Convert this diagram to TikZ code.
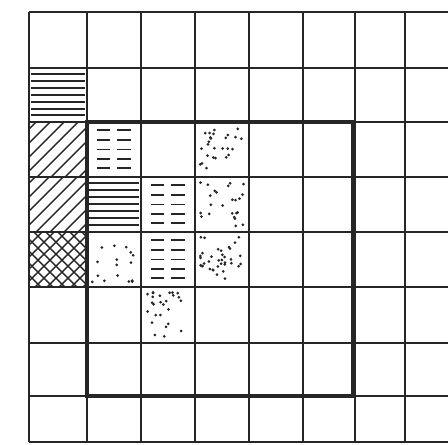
\documentclass[tikz,border=0pt]{standalone}
\begin{document}
\begin{tikzpicture}[x=0.75pt,y=-0.75pt,
  gridline/.style={line width=1.6pt,color=black!85},
  thickline/.style={line width=3.2pt,color=black!85},
  inkfill/.style={fill=black!85}]
\useasboundingbox (0,0) rectangle (448,444);
% grid
\foreach \gx in {29,87,141,195,249,303,355,405}
  \draw[gridline] (\gx,12) -- (\gx,442);
\foreach \gy in {12,68,122,177,232,287,343,396,442}
  \draw[gridline] (29,\gy) -- (448,\gy);
% thick frame
\draw[thickline] (87,122) rectangle (353,396);
% horizontal lines cells
\foreach \hy in {74,81,88,95,102,109,115}
  \fill[inkfill] (31,{\hy-0.7}) rectangle (85,{\hy+0.7});
\foreach \hy in {183,190,197,204,211,218,225}
  \fill[inkfill] (89,{\hy-0.7}) rectangle (139,{\hy+0.7});
% diagonal cells
\begin{scope}
  \clip (29,122) rectangle (87,177);
  \foreach \dc in {158,172,...,270}
    \fill[inkfill] ({\dc-177-1},177) -- ({\dc-122-1},122) -- ({\dc-122+1},122) -- ({\dc-177+1},177) -- cycle;
\end{scope}
\begin{scope}
  \clip (29,177) rectangle (87,232);
  \foreach \dc in {212,226,...,330}
    \fill[inkfill] ({\dc-232-1},232) -- ({\dc-177-1},177) -- ({\dc-177+1},177) -- ({\dc-232+1},232) -- cycle;
\end{scope}
% crosshatch
\begin{scope}
  \clip (29,232) rectangle (87,287);
  \foreach \dc in {262,274,...,380}
    \fill[inkfill] ({\dc-287-1},287) -- ({\dc-232-1},232) -- ({\dc-232+1},232) -- ({\dc-287+1},287) -- cycle;
  \foreach \dd in {-258,-246,...,-140}
    \fill[inkfill] ({\dd+232-1},232) -- ({\dd+287-1},287) -- ({\dd+287+1},287) -- ({\dd+232+1},232) -- cycle;
\end{scope}
% dash cells
\foreach \cx/\cy in {87/122, 141/177, 141/232}{
  \foreach \fr in {0.15,0.32,0.5,0.67,0.84}{
    \fill[inkfill] ({\cx+0.18*54},{\cy+\fr*55-0.9}) rectangle ({\cx+0.42*54},{\cy+\fr*55+0.9});
    \fill[inkfill] ({\cx+0.56*54},{\cy+\fr*55-0.9}) rectangle ({\cx+0.82*54},{\cy+\fr*55+0.9});
  }
}
% dot cells
\pgfmathsetseed{11}
\foreach \cx/\cy/\nn in {195/122/26, 195/177/24, 195/232/36, 87/232/16, 141/287/26}{
  \foreach \k in {1,...,\nn}
    \fill[inkfill] ({\cx+5+rnd*44},{\cy+5+rnd*45}) circle (1.5);
}
\end{tikzpicture}
\end{document}
